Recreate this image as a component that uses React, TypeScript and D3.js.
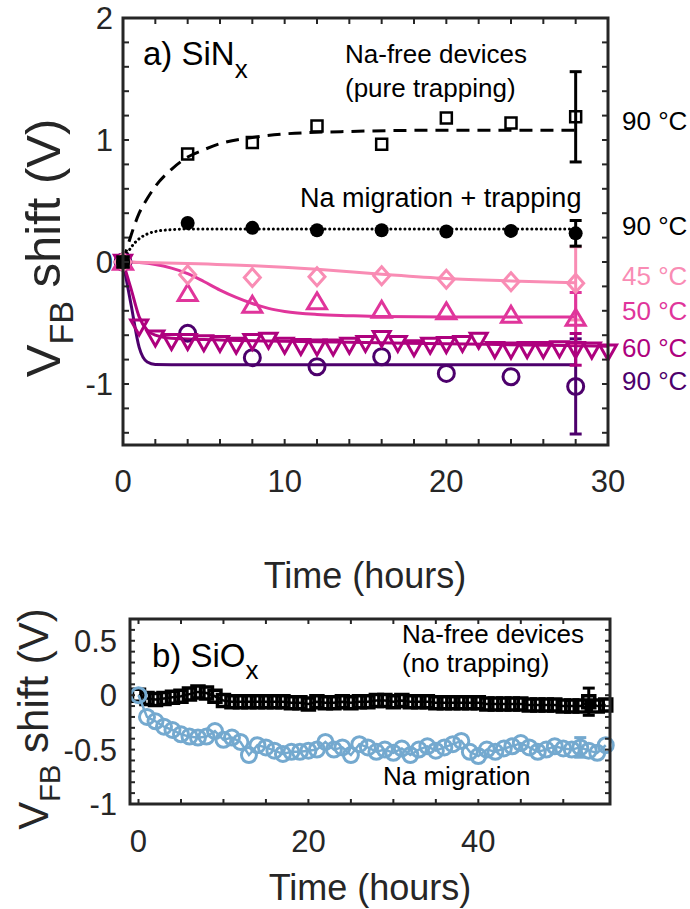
import React from "react";
import * as d3 from "d3";

const FONT = "'Liberation Sans', Arial, Helvetica, sans-serif";
const AXIS = "#262626";

// ---------- Panel a (SiNx) ----------
const aXTicksLabeled = [0, 10, 20, 30];
const aYTicksLabeled = [-1, 0, 1, 2];

const naFreeT = [0, 4, 8, 12, 16, 20, 24, 28];
const naFreeV = [0, 0.885, 0.98, 1.115, 0.965, 1.18, 1.14, 1.19];
const naFreeFitT = [0, 0.5, 1, 1.5, 2, 3, 4, 5, 6, 8, 10, 14, 20, 28];
const naFreeFitV = [0, 0.22, 0.4, 0.52, 0.62, 0.76, 0.86, 0.92, 0.97, 1.02, 1.05, 1.07, 1.08, 1.08];

const naTrapT = [0, 4, 8, 12, 16, 20, 24, 28];
const naTrapV = [0, 0.32, 0.28, 0.26, 0.26, 0.25, 0.255, 0.235];
const naTrapFitT = [0, 0.5, 1, 1.5, 2, 3, 4, 6, 10, 20, 28];
const naTrapFitV = [0, 0.12, 0.19, 0.23, 0.25, 0.265, 0.27, 0.27, 0.27, 0.27, 0.27];

const t45 = [0, 4, 8, 12, 16, 20, 24, 28];
const v45 = [0, -0.105, -0.128, -0.12, -0.112, -0.142, -0.161, -0.175];
const fit45T = [0, 4, 8, 12, 16, 20, 24, 28];
const fit45V = [0, -0.012, -0.03, -0.06, -0.1, -0.135, -0.155, -0.17];

const t50 = [0, 4, 8, 12, 16, 20, 24, 28];
const v50 = [0, -0.257, -0.352, -0.325, -0.393, -0.407, -0.434, -0.46];
const fit50T = [0, 1, 2, 3, 4, 5, 6, 7, 8, 9, 10, 12, 14, 16, 20, 28];
const fit50V = [0, -0.005, -0.02, -0.05, -0.095, -0.16, -0.23, -0.29, -0.34, -0.38, -0.405, -0.43, -0.44, -0.447, -0.45, -0.45];

const t60 = [0, 1, 2, 3, 4, 5, 6, 7, 8, 9, 10, 11, 12, 13, 14, 15, 16, 17, 18, 19, 20, 21, 22, 23, 24, 25, 26, 27, 28, 29, 30];
const v60 = [0, -0.53, -0.62, -0.65, -0.65, -0.66, -0.665, -0.68, -0.65, -0.64, -0.68, -0.69, -0.694, -0.694, -0.68, -0.665, -0.625, -0.665, -0.7, -0.68, -0.675, -0.665, -0.64, -0.716, -0.72, -0.716, -0.716, -0.71, -0.716, -0.72, -0.735];
const fit60T = [0, 0.5, 1, 1.5, 2, 3, 5, 10, 15, 20, 25, 30];
const fit60V = [0, -0.22, -0.45, -0.56, -0.6, -0.625, -0.635, -0.65, -0.66, -0.67, -0.68, -0.69];

const t90 = [0, 4, 8, 12, 16, 20, 24, 28];
const v90 = [0, -0.585, -0.784, -0.858, -0.776, -0.913, -0.94, -1.02];
const fit90T = [0, 0.5, 1, 1.5, 2, 4, 10, 20, 28];
const fit90V = [0, -0.35, -0.7, -0.82, -0.84, -0.843, -0.843, -0.843, -0.843];

// error bars at t = 28 h (time, value, half-width)
const errNaFree = [28, 1.19, 0.37];
const errNaTrap = [28, 0.235, 0.105];
const err45 = [28, -0.175, 0.3];
const err50 = [28, -0.46, 0.21];
const err60 = [28, -0.716, 0.13];
const err90 = [28, -1.02, 0.39];

const tempLabels = ["90 °C", "90 °C", "45 °C", "50 °C", "60 °C", "90 °C"];

const C45 = "#f98cb4";
const C50 = "#e0359b";
const C60 = "#ae017e";
const C90 = "#4d006c";

// ---------- Panel b (SiOx) ----------
const bXTicksLabeled = [0, 20, 40];
const bYTicksLabeled = [-1, -0.5, 0, 0.5];
const bT = [0, 1, 2, 3, 4, 5, 6, 7, 8, 9, 10, 11, 12, 13, 14, 15, 16, 17, 18, 19, 20, 21, 22, 23, 24, 25, 26, 27, 28, 29, 30, 31, 32, 33, 34, 35, 36, 37, 38, 39, 40, 41, 42, 43, 44, 45, 46, 47, 48, 49, 50, 51, 52, 53, 54, 55];
const bNaFreeV = [0, -0.03, -0.04, -0.03, -0.02, -0.01, 0.01, 0.03, 0.02, -0.01, -0.05, -0.06, -0.06, -0.06, -0.06, -0.06, -0.06, -0.06, -0.07, -0.07, -0.08, -0.06, -0.07, -0.07, -0.06, -0.07, -0.06, -0.06, -0.05, -0.05, -0.06, -0.05, -0.06, -0.06, -0.06, -0.07, -0.07, -0.07, -0.07, -0.07, -0.07, -0.08, -0.08, -0.08, -0.08, -0.08, -0.09, -0.09, -0.09, -0.09, -0.1, -0.1, -0.1, -0.06, -0.1, -0.09];
const bNaMigV = [0, -0.2, -0.24, -0.29, -0.32, -0.36, -0.38, -0.39, -0.38, -0.33, -0.41, -0.39, -0.43, -0.55, -0.46, -0.48, -0.51, -0.54, -0.52, -0.52, -0.51, -0.5, -0.43, -0.5, -0.48, -0.55, -0.45, -0.48, -0.52, -0.5, -0.53, -0.49, -0.55, -0.5, -0.47, -0.51, -0.48, -0.45, -0.42, -0.52, -0.56, -0.5, -0.52, -0.49, -0.47, -0.44, -0.48, -0.52, -0.5, -0.47, -0.49, -0.5, -0.48, -0.51, -0.53, -0.46];
const bErrNaFree = [53, -0.06, 0.125];
const bErrNaMig = [52, -0.48, 0.09];
const CBLUE = "#74a9cf";

// ---------- marker shapes ----------
const square = (x: number, y: number, s: number) => `M${x - s / 2},${y - s / 2}h${s}v${s}h${-s}Z`;
const diamond = (x: number, y: number, w: number, h: number) =>
  `M${x},${y - h / 2}L${x + w / 2},${y}L${x},${y + h / 2}L${x - w / 2},${y}Z`;
const triUp = (x: number, y: number, w: number, h: number) =>
  `M${x},${y - h * 0.55}L${x + w / 2},${y + h * 0.45}L${x - w / 2},${y + h * 0.45}Z`;
const triDown = (x: number, y: number, w: number, h: number) =>
  `M${x},${y + h * 0.55}L${x + w / 2},${y - h * 0.45}L${x - w / 2},${y - h * 0.45}Z`;

function range(a: number, b: number, step: number) {
  const out: number[] = [];
  for (let v = a; v <= b + 1e-9; v += step) out.push(+v.toFixed(6));
  return out;
}

function Frame({ x, y, xt, yt, len }: any) {
  const [x0, x1] = x.range();
  const [yb, yt0] = y.range();
  return (
    <g stroke={AXIS} strokeWidth={2}>
      {xt.map((t: number) => (
        <g key={"x" + t}>
          <line x1={x(t)} x2={x(t)} y1={yb} y2={yb - len} />
          <line x1={x(t)} x2={x(t)} y1={yt0} y2={yt0 + len} />
        </g>
      ))}
      {yt.map((t: number) => (
        <g key={"y" + t}>
          <line x1={x0} x2={x0 + len} y1={y(t)} y2={y(t)} />
          <line x1={x1} x2={x1 - len} y1={y(t)} y2={y(t)} />
        </g>
      ))}
      <rect x={x0} y={yt0} width={x1 - x0} height={yb - yt0} fill="none" strokeWidth={3} />
    </g>
  );
}

function ErrBar({ x, y, e, color, cap }: any) {
  const [t, v, d] = e;
  const cx = x(t);
  return (
    <g stroke={color} strokeWidth={3} fill="none">
      <line x1={cx} x2={cx} y1={y(v + d)} y2={y(v - d)} />
      <line x1={cx - cap} x2={cx + cap} y1={y(v + d)} y2={y(v + d)} />
      <line x1={cx - cap} x2={cx + cap} y1={y(v - d)} y2={y(v - d)} />
    </g>
  );
}

export default function App() {
  const xA = d3.scaleLinear().domain([0, 30]).range([123, 608]);
  const yA = d3.scaleLinear().domain([-1.5, 2]).range([445, 18]);
  const xB = d3.scaleLinear().domain([-1, 55.5]).range([130, 610]);
  const yB = d3.scaleLinear().domain([-1, 0.7]).range([804, 619]);

  const fitA = (ts: number[], vs: number[]) =>
    d3
      .line<number>()
      .x((_, i) => xA(ts[i]))
      .y((v) => yA(v))
      .curve(d3.curveMonotoneX)(vs) as string;
  const lineB = (vs: number[]) =>
    d3
      .line<number>()
      .x((_, i) => xB(bT[i]))
      .y((v) => yB(v))(vs) as string;

  return (
    <svg
      width={690}
      height={909}
      style={{ position: "absolute", left: 0, top: 0, background: "#fff" }}
      fontFamily={FONT}
    >
      <rect width={690} height={909} fill="#fff" />
      {/* ================= Panel a ================= */}
      <path d={fitA(fit90T, fit90V)} fill="none" stroke={C90} strokeWidth={3} />
      <path d={fitA(fit60T, fit60V)} fill="none" stroke={C60} strokeWidth={3} />
      <path d={fitA(fit50T, fit50V)} fill="none" stroke={C50} strokeWidth={3} />
      <path d={fitA(fit45T, fit45V)} fill="none" stroke={C45} strokeWidth={3} />
      <path d={fitA(naFreeFitT, naFreeFitV)} fill="none" stroke="#000" strokeWidth={3} strokeDasharray="13 8" />
      <path d={fitA(naTrapFitT, naTrapFitV)} fill="none" stroke="#000" strokeWidth={3} strokeDasharray="0.1 4.6" strokeLinecap="round" />

      <ErrBar x={xA} y={yA} e={err90} color={C90} cap={6} />
      <ErrBar x={xA} y={yA} e={err45} color={C45} cap={6} />
      <ErrBar x={xA} y={yA} e={err50} color={C50} cap={6} />
      <ErrBar x={xA} y={yA} e={err60} color={C60} cap={6} />
      <ErrBar x={xA} y={yA} e={errNaTrap} color="#000" cap={6} />
      <ErrBar x={xA} y={yA} e={errNaFree} color="#000" cap={6} />

      {t90.map((t, i) => (
        <circle key={"c90" + i} cx={xA(t)} cy={yA(v90[i])} r={8} fill="none" stroke={C90} strokeWidth={3} />
      ))}
      {t60.map((t, i) => (
        <path key={"t60" + i} d={triDown(xA(t), yA(v60[i]), 17, 15)} fill="none" stroke={C60} strokeWidth={3} />
      ))}
      {t50.map((t, i) => (
        <path key={"t50" + i} d={triUp(xA(t), yA(v50[i]), 19, 16)} fill="none" stroke={C50} strokeWidth={3} />
      ))}
      {t45.map((t, i) => (
        <path key={"d45" + i} d={diamond(xA(t), yA(v45[i]), 16, 18)} fill="none" stroke={C45} strokeWidth={3} />
      ))}
      {naFreeT.map((t, i) => (
        <path key={"sq" + i} d={square(xA(t), yA(naFreeV[i]), 11)} fill="none" stroke="#000" strokeWidth={2.5} />
      ))}
      {naTrapT.map((t, i) => (
        <circle key={"dot" + i} cx={xA(t)} cy={yA(naTrapV[i])} r={7} fill="#000" />
      ))}

      <Frame x={xA} y={yA} xt={range(0, 30, 2)} yt={range(-1.4, 1.8, 0.2)} len={6} />

      <g fontSize={31} fill={AXIS}>
        {aXTicksLabeled.map((t) => (
          <text key={"ax" + t} x={xA(t)} y={492} textAnchor="middle">
            {t}
          </text>
        ))}
        {aYTicksLabeled.map((t) => (
          <text key={"ay" + t} x={113} y={yA(t) + 11} textAnchor="end">
            {t}
          </text>
        ))}
      </g>
      <text x={365} y={588} fontSize={36} textAnchor="middle" fill={AXIS}>
        Time (hours)
      </text>
      <text transform="translate(60,248) rotate(-90)" fontSize={49} textAnchor="middle" fill={AXIS}>
        V<tspan fontSize={34} dy={13}>FB</tspan>
        <tspan dy={-13}> shift (V)</tspan>
      </text>

      <text x={143} y={65} fontSize={33} fill="#000">
        a) SiN<tspan fontSize={26} dy={13}>x</tspan>
      </text>
      <text x={345} y={63} fontSize={26} fill="#000">
        Na-free devices
      </text>
      <text x={345} y={97} fontSize={26} fill="#000">
        (pure trapping)
      </text>
      <text x={300} y={207} fontSize={27} fill="#000">
        Na migration + trapping
      </text>
      {[
        [130, "#000"],
        [235, "#000"],
        [285, C45],
        [320, C50],
        [357, C60],
        [390, C90],
      ].map(([yy, c], i) => (
        <text key={"tl" + i} x={622} y={yy as number} fontSize={26} fill={c as string}>
          {tempLabels[i]}
        </text>
      ))}

      {/* ================= Panel b ================= */}
      <path d={lineB(bNaFreeV)} fill="none" stroke="#000" strokeWidth={2.5} />
      <ErrBar x={xB} y={yB} e={bErrNaFree} color="#000" cap={6} />
      {bT.map((t, i) => (
        <path key={"bsq" + i} d={square(xB(t), yB(bNaFreeV[i]), 12)} fill="none" stroke="#000" strokeWidth={3.5} />
      ))}
      <path d={lineB(bNaMigV)} fill="none" stroke={CBLUE} strokeWidth={2.5} />
      <ErrBar x={xB} y={yB} e={bErrNaMig} color={CBLUE} cap={6} />
      {bT.map((t, i) => (
        <circle key={"bc" + i} cx={xB(t)} cy={yB(bNaMigV[i])} r={7.5} fill="none" stroke={CBLUE} strokeWidth={3} />
      ))}

      <Frame x={xB} y={yB} xt={range(0, 50, 5)} yt={range(-0.9, 0.6, 0.1)} len={5} />

      <g fontSize={31} fill={AXIS}>
        {bXTicksLabeled.map((t) => (
          <text key={"bx" + t} x={xB(t)} y={852} textAnchor="middle">
            {t}
          </text>
        ))}
        {bYTicksLabeled.map((t) => (
          <text key={"by" + t} x={117} y={yB(t) + 11} textAnchor="end">
            {t}
          </text>
        ))}
      </g>
      <text x={370} y={900} fontSize={36} textAnchor="middle" fill={AXIS}>
        Time (hours)
      </text>
      <text transform="translate(48,719) rotate(-90)" fontSize={42} textAnchor="middle" fill={AXIS}>
        V<tspan fontSize={29} dy={12}>FB</tspan>
        <tspan dy={-12}> shift (V)</tspan>
      </text>

      <text x={152} y={667} fontSize={33} fill="#000">
        b) SiO<tspan fontSize={26} dy={12}>x</tspan>
      </text>
      <text x={402} y={643} fontSize={26} fill="#000">
        Na-free devices
      </text>
      <text x={402} y={672} fontSize={26} fill="#000">
        (no trapping)
      </text>
      <text x={383} y={785} fontSize={26} fill="#000">
        Na migration
      </text>
    </svg>
  );
}
